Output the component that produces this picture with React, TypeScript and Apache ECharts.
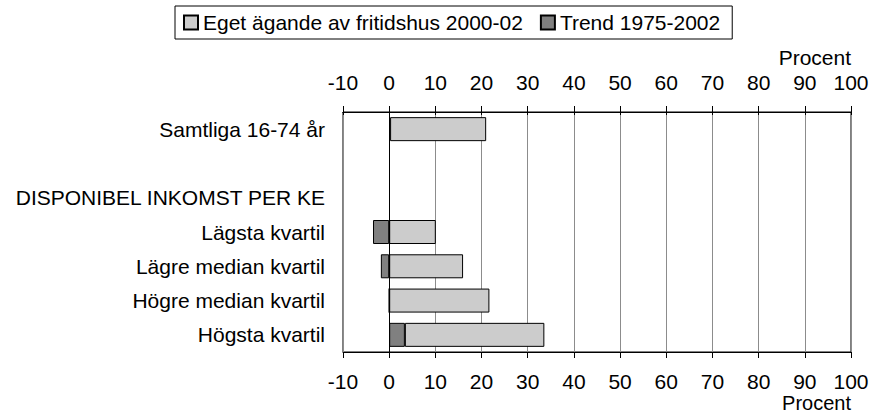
import React, { useEffect, useRef } from "react";
import * as echarts from "echarts";

const categories = [
  "Samtliga 16-74 år",
  "",
  "DISPONIBEL INKOMST PER KE",
  "Lägsta kvartil",
  "Lägre median kvartil",
  "Högre median kvartil",
  "Högsta kvartil",
];
const trendName = "Trend 1975-2002";
const egetName = "Eget ägande av fritidshus 2000-02";
const trendValues: (number | null)[] = [0.2, null, null, -3.5, -1.8, 0, 3.4];
const egetValues: (number | null)[] = [20.8, null, null, 10.1, 16.0, 21.7, 30.2];
const axisMin = -10;
const axisMax = 100;
const axisStep = 10;
const unitLabel = "Procent";

const FONT = "'Liberation Sans', Arial, sans-serif";
const FS = 21;

export default function App() {
  const ref = useRef<HTMLDivElement>(null);
  useEffect(() => {
    if (!ref.current) return;
    const chart = echarts.init(ref.current, undefined, { renderer: "svg" });
    const xCommon = {
      type: "value" as const,
      min: axisMin,
      max: axisMax,
      interval: axisStep,
      axisLine: { show: true, lineStyle: { color: "#000", width: 1 } },
      axisLabel: { color: "#000", fontSize: FS, fontFamily: FONT, lineHeight: 16 },
    };
    chart.setOption({
      animation: false,
      textStyle: { fontFamily: FONT, color: "#000" },
      legend: {
        left: 175,
        top: 6,
        padding: [6, 12, 6, 8],
        borderColor: "#000",
        borderWidth: 1,
        itemWidth: 14,
        itemHeight: 14,
        itemGap: 17,
        icon: "rect",
        data: [egetName, trendName],
        textStyle: { color: "#000", fontSize: FS, fontFamily: FONT },
      },
      grid: {
        left: 343,
        right: 18,
        top: 112,
        bottom: 60,
        show: true,
        borderColor: "#000",
        borderWidth: 1,
        outerBoundsMode: "none",
        containLabel: false,
      },
      xAxis: [
        {
          ...xCommon,
          position: "top",
          axisTick: { show: true, inside: false, length: 6, lineStyle: { color: "#000" } },
          axisLabel: { ...xCommon.axisLabel, margin: 22 },
          splitLine: { show: true, lineStyle: { color: "#8c8c8c", width: 1 } },
        },
        {
          ...xCommon,
          position: "bottom",
          axisTick: { show: true, inside: false, length: 6, lineStyle: { color: "#000" } },
          axisLabel: { ...xCommon.axisLabel, margin: 21 },
          splitLine: { show: false },
        },
        {
          ...xCommon,
          position: "top",
          axisTick: { show: true, inside: true, length: 3, lineStyle: { color: "#000" } },
          axisLabel: { show: false },
          splitLine: { show: false },
        },
      ],
      yAxis: {
        type: "category",
        inverse: true,
        data: categories,
        axisLine: { show: false },
        axisTick: { show: false },
        axisLabel: { color: "#000", fontSize: FS, fontFamily: FONT, margin: 18 },
        splitLine: { show: false },
      },
      graphic: [
        {
          type: "text",
          x: 851,
          y: 57,
          style: { text: unitLabel, align: "right", verticalAlign: "middle", fontSize: FS, lineHeight: 16, fontFamily: FONT, fill: "#000" },
        },
        {
          type: "text",
          x: 851,
          y: 402.5,
          style: { text: unitLabel, align: "right", verticalAlign: "middle", fontSize: 20, lineHeight: 16, fontFamily: FONT, fill: "#000" },
        },
      ],
      series: [
        {
          name: trendName,
          type: "bar",
          stack: "s",
          xAxisIndex: 0,
          barWidth: 24,
          data: trendValues,
          itemStyle: { color: "#808080", borderColor: "#000", borderWidth: 1 },
          markLine: {
            silent: true,
            symbol: "none",
            label: { show: false },
            lineStyle: { color: "#000", width: 1, type: "solid" },
            data: [{ xAxis: 0 }],
            z: 10,
          },
        },
        {
          name: egetName,
          type: "bar",
          stack: "s",
          xAxisIndex: 0,
          barWidth: 24,
          data: egetValues,
          itemStyle: { color: "#cccccc", borderColor: "#000", borderWidth: 1 },
        },
      ],
    });
    return () => chart.dispose();
  }, []);
  return (
    <div
      ref={ref}
      style={{ position: "fixed", left: 0, top: 0, width: 869, height: 412, background: "#fff" }}
    />
  );
}
